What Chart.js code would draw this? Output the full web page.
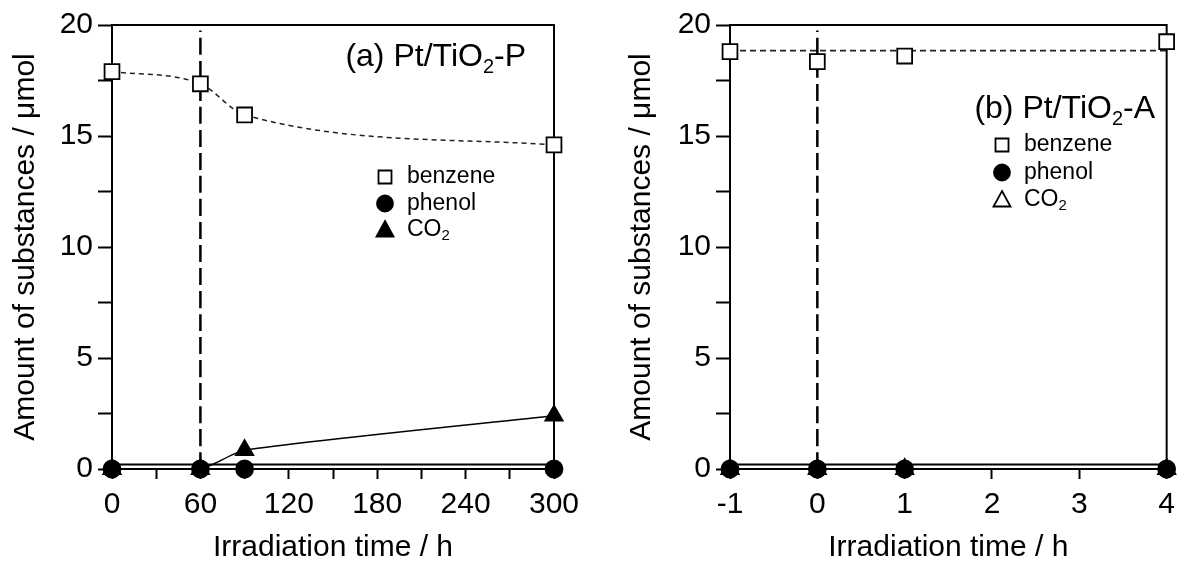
<!DOCTYPE html>
<html>
<head>
<meta charset="utf-8">
<script src="https://cdn.jsdelivr.net/npm/chart.js@4.4.0/dist/chart.umd.min.js"></script>
<style>
  html, body { margin: 0; padding: 0; background: #fff; }
  #wrap { position: relative; width: 1183px; height: 566px; overflow: hidden; }
  .pane { position: absolute; top: 0; height: 566px; }
</style>
</head>
<body>
<div id="wrap">
  <div class="pane" style="left:0;width:590px"><canvas id="chartA" width="590" height="566"></canvas></div>
  <div class="pane" style="left:590px;width:593px"><canvas id="chartB" width="593" height="566"></canvas></div>
</div>
<script>
// (a) Pt/TiO2-P
const timesA = [0, 60, 90, 300];
const benzeneA = [17.9, 17.35, 15.95, 14.6];
const phenolA = [0, 0, 0, 0];
const co2A = [0, 0, 0.85, 2.4];
const baseTimesA = [0, 300];
const baseA = [0.2, 0.2];
const lampOnA = 60;

// (b) Pt/TiO2-A
const timesB = [-1, 0, 1, 4];
const benzeneB = [18.8, 18.35, 18.6, 19.25];
const phenolB = [0, 0, 0, 0];
const co2B = [0, 0, 0, 0];
const benzeneLevelTimesB = [-1, 4];
const benzeneLevelB = [18.85, 18.85];
const baseTimesB = [-1, 4];
const baseB = [0.2, 0.2];
const lampOnB = 0;

const lampSpan = [0, 19.75];
const yTicks = [0, 5, 10, 15, 20];
const xTicksA = [0, 60, 120, 180, 240, 300];
const xTicksB = [-1, 0, 1, 2, 3, 4];

Chart.defaults.font.family = '"Liberation Sans", Arial, sans-serif';
Chart.defaults.color = '#000';

const pts = (xs, ys) => xs.map((x, i) => ({ x: x, y: ys[i] }));

function drawMarker(ctx, style, x, y, filled) {
  ctx.save();
  ctx.lineWidth = 1.8;
  ctx.strokeStyle = '#000';
  ctx.fillStyle = filled ? '#000' : '#fff';
  ctx.beginPath();
  if (style === 'rect') {
    ctx.rect(x - 6.5, y - 6.5, 13, 13);
  } else if (style === 'circle') {
    ctx.arc(x, y, 8, 0, Math.PI * 2);
  } else {
    ctx.moveTo(x, y - 9);
    ctx.lineTo(x + 8.5, y + 6.5);
    ctx.lineTo(x - 8.5, y + 6.5);
    ctx.closePath();
  }
  ctx.fill();
  ctx.stroke();
  ctx.restore();
}

function drawParts(ctx, parts, xRight, y, size, subSize, subDrop) {
  const fMain = size + 'px "Liberation Sans", Arial, sans-serif';
  const fSub = subSize + 'px "Liberation Sans", Arial, sans-serif';
  let w = 0;
  parts.forEach(p => { ctx.font = p.sub ? fSub : fMain; w += ctx.measureText(p.t).width; });
  let x = xRight - w;
  parts.forEach(p => {
    ctx.font = p.sub ? fSub : fMain;
    ctx.fillText(p.t, x, p.sub ? y + subDrop : y);
    x += ctx.measureText(p.t).width;
  });
}

const annotate = {
  id: 'annotate',
  beforeDatasetsDraw(chart) {
    const { ctx, chartArea: a } = chart;
    ctx.save();
    ctx.strokeStyle = '#000';
    ctx.lineWidth = 2;
    ctx.beginPath();
    ctx.moveTo(a.left - 1, a.top);
    ctx.lineTo(a.right, a.top);
    ctx.lineTo(a.right, a.bottom);
    ctx.stroke();
    ctx.restore();
  },
  afterDraw(chart, args, opts) {
    const ctx = chart.ctx;
    ctx.save();
    ctx.fillStyle = '#000';
    ctx.textBaseline = 'alphabetic';
    drawParts(ctx, opts.title, opts.titleX, opts.titleY, 32, 20, 7);
    opts.legend.forEach((item, i) => {
      const y = opts.legendY + i * opts.legendGap;
      drawMarker(ctx, item.style, opts.legendX, y, item.filled);
      ctx.textBaseline = 'middle';
      let x = opts.legendX + 22;
      item.parts.forEach(p => {
        ctx.font = (p.sub ? 15 : 23) + 'px "Liberation Sans", Arial, sans-serif';
        ctx.fillText(p.t, x, p.sub ? y + 6 : y);
        x += ctx.measureText(p.t).width;
      });
    });
    ctx.restore();
  }
};

function axes(xMin, xMax, xStep, xLabels, yWidth) {
  return {
    x: {
      type: 'linear', min: xMin, max: xMax,
      afterFit: s => { s.height = 97; },
      border: { color: '#000', width: 2 },
      grid: { drawOnChartArea: false, tickLength: 10, tickWidth: 2, tickColor: '#000' },
      ticks: {
        stepSize: xStep, autoSkip: false, maxRotation: 0, padding: 8,
        font: { size: 30 },
        callback: v => xLabels.includes(v) ? String(v) : ''
      },
      title: { display: true, text: 'Irradiation time / h', font: { size: 30, lineHeight: 1.1 }, padding: { top: 0, bottom: 2 } }
    },
    y: {
      type: 'linear', min: 0, max: 20,
      afterFit: s => { s.width = yWidth; },
      border: { color: '#000', width: 2 },
      grid: { drawOnChartArea: false, tickLength: 14, tickWidth: 2, tickColor: '#000' },
      ticks: {
        stepSize: 2.5, autoSkip: false, padding: 5,
        font: { size: 30 },
        callback: v => yTicks.includes(v) ? String(v) : ''
      },
      title: { display: true, text: 'Amount of substances / \u03bcmol', font: { size: 30, lineHeight: 1.2 }, padding: { top: yWidth === 112 ? 8 : 34, bottom: 0 } }
    }
  };
}

const common = (extra) => Object.assign({
  type: 'line', clip: false, cubicInterpolationMode: 'monotone',
  pointBorderColor: '#000', pointBorderWidth: 1.8, borderColor: '#000'
}, extra);

function datasets(times, benz, phen, co2, co2Open, baseT, base, lampX, levelT, level) {
  const list = [
    common({ label: 'phenol', data: pts(times, phen), showLine: false, pointStyle: 'circle', pointRadius: 8.5, pointBackgroundColor: '#000' }),
    common({ label: 'CO2', data: pts(times, co2), pointStyle: 'triangle', pointRadius: 10,
      cubicInterpolationMode: 'default', tension: 0.2,
      pointBackgroundColor: co2Open ? '#fff' : '#000', borderWidth: 1.5, showLine: !co2Open,
      segment: { borderColor: c => c.p0DataIndex === 0 ? 'rgba(0,0,0,0)' : '#000' } }),
    common({ label: 'benzene', data: pts(times, benz), showLine: !level, pointStyle: 'rect', pointRadius: 10.5,
      pointBackgroundColor: '#fff', borderColor: '#222', borderWidth: 1.5, borderDash: [5, 4] }),
    common({ label: 'lamp', data: pts([lampX, lampX], lampSpan), pointRadius: 0, borderWidth: 2.5, borderDash: [17, 6] }),
    common({ label: 'base', data: pts(baseT, base), pointRadius: 0, borderWidth: 2 })
  ];
  if (level) {
    list.push(common({ label: 'benzene level', data: pts(levelT, level), pointRadius: 0, borderColor: '#222', borderWidth: 1.8, borderDash: [6, 4] }));
  }
  return list;
}

function build(id, data, scales, padRight, note) {
  return new Chart(document.getElementById(id), {
    type: 'line',
    data: { datasets: data },
    options: {
      responsive: false, animation: false, events: [],
      layout: { padding: { left: 0, right: padRight, top: 25, bottom: 0 } },
      scales: scales,
      plugins: { legend: { display: false }, tooltip: { enabled: false }, annotate: note }
    },
    plugins: [annotate]
  });
}

build('chartA',
  datasets(timesA, benzeneA, phenolA, co2A, false, baseTimesA, baseA, lampOnA),
  axes(0, 300, 30, xTicksA, 112), 36,
  {
    title: [{ t: '(a) Pt/TiO' }, { t: '2', sub: true }, { t: '-P' }], titleX: 526, titleY: 66,
    legendX: 385, legendY: 177, legendGap: 26.5,
    legend: [
      { style: 'rect', filled: false, parts: [{ t: 'benzene' }] },
      { style: 'circle', filled: true, parts: [{ t: 'phenol' }] },
      { style: 'triangle', filled: true, parts: [{ t: 'CO' }, { t: '2', sub: true }] }
    ]
  });

build('chartB',
  datasets(timesB, benzeneB, phenolB, co2B, true, baseTimesB, baseB, lampOnB, benzeneLevelTimesB, benzeneLevelB),
  axes(-1, 4, 1, xTicksB, 140), 11,
  {
    title: [{ t: '(b) Pt/TiO' }, { t: '2', sub: true }, { t: '-A' }], titleX: 565, titleY: 118,
    legendX: 412, legendY: 145, legendGap: 27.5,
    legend: [
      { style: 'rect', filled: false, parts: [{ t: 'benzene' }] },
      { style: 'circle', filled: true, parts: [{ t: 'phenol' }] },
      { style: 'triangle', filled: false, parts: [{ t: 'CO' }, { t: '2', sub: true }] }
    ]
  });
</script>
</body>
</html>
